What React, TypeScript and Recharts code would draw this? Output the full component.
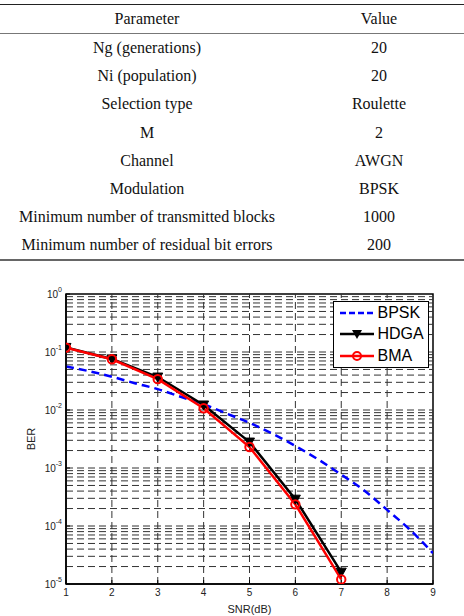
import React from "react";
import {
  LineChart,
  Line,
  XAxis,
  YAxis,
  ReferenceLine,
  ReferenceArea,
} from "recharts";

// table contents
const paramNames = [
  "Ng (generations)",
  "Ni (population)",
  "Selection type",
  "M",
  "Channel",
  "Modulation",
  "Minimum number of transmitted blocks",
  "Minimum number of residual bit errors",
];
const paramValues = ["20", "20", "Roulette", "2", "AWGN", "BPSK", "1000", "200"];

// BER curves
const snrPoints = [1, 2, 3, 4, 5, 6, 7];
const hdgaBer = [0.12, 0.076, 0.037, 0.0122, 0.0028, 0.00029, 0.000016];
const bmaBer = [0.119, 0.075, 0.034, 0.0107, 0.0023, 0.000236, 0.000012];
const bpskSnr = [1, 1.5, 2, 2.5, 3, 3.5, 4, 4.5, 5, 5.5, 6, 6.5, 7, 7.5, 8, 8.5, 9];
const bpskBer = [
  0.0563, 0.0468, 0.0375, 0.029, 0.0229, 0.0169, 0.0125, 0.0087, 0.006, 0.0039,
  0.0024, 0.0014, 0.00077, 0.00041, 0.00019, 0.000086, 0.000034,
];

const xTicks = [1, 2, 3, 4, 5, 6, 7, 8, 9];
const yTicks = [1e-5, 1e-4, 1e-3, 1e-2, 1e-1, 1];
const minorSteps = [1, 2, 3, 4, 5, 6, 7, 8, 9];

// dashed grid at every decade and its minor steps, vertical grid at inner x ticks
const gridY = yTicks
  .slice(0, -1)
  .flatMap((d) => minorSteps.map((m) => d * m))
  .filter((v) => v > 1e-5);
const gridX = xTicks.slice(1, -1);

const toRows = (xs: number[], ys: number[]) => xs.map((x, i) => ({ snr: x, ber: ys[i] }));
const bpskRows = toRows(bpskSnr, bpskBer);
const hdgaRows = toRows(snrPoints, hdgaBer);
const bmaRows = toRows(snrPoints, bmaBer);

const sans = "'Liberation Sans', Arial, sans-serif";
const serif = "'Liberation Serif', 'Times New Roman', serif";
const gridStroke = "#333";
const gridDash = "7 4";

const PowerTick = (props: any) => {
  const { x, y, payload } = props;
  const exp = Math.round(Math.log10(payload.value));
  return (
    <text x={x} y={y + 4} textAnchor="end" fontSize={10} fill="#222" fontFamily={sans}>
      10
      <tspan dy={-6} fontSize={7}>
        {exp}
      </tspan>
    </text>
  );
};

const TriangleDot = (props: any) => {
  const { cx, cy, index } = props;
  if (cx == null || cy == null) return <g key={index} />;
  return (
    <polygon
      key={index}
      points={`${cx - 5},${cy - 4} ${cx + 5},${cy - 4} ${cx},${cy + 5}`}
      fill="#000"
      stroke="#000"
    />
  );
};

const CircleDot = (props: any) => {
  const { cx, cy, index } = props;
  if (cx == null || cy == null) return <g key={index} />;
  return <circle key={index} cx={cx} cy={cy} r={4.2} fill="none" stroke="#f00" strokeWidth={2} />;
};

const legendItems = [
  { name: "BPSK", color: "#0000ff", dash: "6 3", marker: "none" },
  { name: "HDGA", color: "#000", dash: undefined, marker: "tri" },
  { name: "BMA", color: "#f00", dash: undefined, marker: "circle" },
];

const ParamTable = () => (
  <table
    style={{
      position: "absolute",
      left: 0,
      top: 4,
      width: 464,
      borderCollapse: "collapse",
      tableLayout: "fixed",
      fontFamily: serif,
      fontSize: 16,
      color: "#111",
    }}
  >
    <thead>
      <tr style={{ height: 29, borderTop: "1.5px solid #222", borderBottom: "1px solid #777" }}>
        <th style={{ width: 294, fontWeight: "normal", padding: 0 }}>Parameter</th>
        <th style={{ width: 170, fontWeight: "normal", padding: 0 }}>Value</th>
      </tr>
    </thead>
    <tbody>
      {paramNames.map((name, i) => (
        <tr
          key={name}
          style={{
            height: 28.3,
            borderBottom: i === paramNames.length - 1 ? "2px solid #666" : undefined,
          }}
        >
          <td style={{ textAlign: "center", padding: 0 }}>{name}</td>
          <td style={{ textAlign: "center", padding: 0 }}>{paramValues[i]}</td>
        </tr>
      ))}
    </tbody>
  </table>
);

const LegendBox = () => (
  <div
    style={{
      position: "absolute",
      left: 333,
      top: 301,
      width: 96,
      height: 67,
      boxSizing: "border-box",
      border: "1.5px solid #000",
      background: "#fff",
      paddingLeft: 5.5,
      fontFamily: sans,
      fontSize: 16,
    }}
  >
    {legendItems.map((item) => (
      <div key={item.name} style={{ height: 21.5, display: "flex", alignItems: "center" }}>
        <svg width={34} height={12} style={{ marginRight: 4 }}>
          <line
            x1={0}
            y1={6}
            x2={34}
            y2={6}
            stroke={item.color}
            strokeWidth={2.5}
            strokeDasharray={item.dash}
          />
          {item.marker === "tri" && <polygon points="12,2 22,2 17,11" fill="#000" />}
          {item.marker === "circle" && (
            <circle cx={17} cy={6} r={4} fill="none" stroke="#f00" strokeWidth={2} />
          )}
        </svg>
        <span style={{ lineHeight: "16px" }}>{item.name}</span>
      </div>
    ))}
  </div>
);

export default function App() {
  return (
    <div
      style={{
        position: "absolute",
        left: 0,
        top: 0,
        width: 464,
        height: 616,
        background: "#fff",
        overflow: "hidden",
      }}
    >
      <ParamTable />
      <div style={{ position: "absolute", left: 0, top: 270 }}>
        <LineChart width={464} height={346} margin={{ top: 24, right: 31, bottom: 0, left: 0 }}>
          <XAxis
            dataKey="snr"
            type="number"
            domain={[1, 9]}
            ticks={xTicks}
            allowDataOverflow
            height={32}
            tickLine={{ stroke: "#000", strokeWidth: 1 }}
            tickSize={-4}
            tickMargin={9}
            axisLine={{ stroke: "#000", strokeWidth: 1.5 }}
            tick={{ fontSize: 10, fill: "#222", fontFamily: sans }}
            label={{
              value: "SNR(dB)",
              position: "insideBottom",
              offset: 3,
              style: { fontSize: 11, fill: "#222", fontFamily: sans },
            }}
          />
          <YAxis
            dataKey="ber"
            type="number"
            scale="log"
            domain={[1e-5, 1]}
            ticks={yTicks}
            allowDataOverflow
            width={66}
            tickLine={{ stroke: "#000", strokeWidth: 1 }}
            tickSize={-4}
            tickMargin={8}
            axisLine={{ stroke: "#000", strokeWidth: 1.5 }}
            tick={<PowerTick />}
            label={{
              value: "BER",
              angle: -90,
              position: "insideLeft",
              offset: 31,
              style: { fontSize: 11, fill: "#222", fontFamily: sans, textAnchor: "middle" },
            }}
          />
          {gridY.map((v) => (
            <ReferenceLine
              key={`gy-${v}`}
              y={v}
              stroke={gridStroke}
              strokeDasharray={gridDash}
              strokeWidth={1}
            />
          ))}
          {gridX.map((v) => (
            <ReferenceLine
              key={`gx-${v}`}
              x={v}
              stroke={gridStroke}
              strokeDasharray={gridDash}
              strokeWidth={1}
            />
          ))}
          <ReferenceArea
            x1={1}
            x2={9}
            y1={1e-5}
            y2={1}
            fill="none"
            fillOpacity={0}
            stroke="#000"
            strokeWidth={1.5}
          />
          <Line
            data={bpskRows}
            dataKey="ber"
            type="monotone"
            stroke="#0000ff"
            strokeWidth={2.5}
            strokeDasharray="8 5"
            dot={false}
            activeDot={false}
            isAnimationActive={false}
          />
          <Line
            data={hdgaRows}
            dataKey="ber"
            type="linear"
            stroke="#000"
            strokeWidth={2.5}
            dot={TriangleDot}
            activeDot={false}
            isAnimationActive={false}
          />
          <Line
            data={bmaRows}
            dataKey="ber"
            type="linear"
            stroke="#f00"
            strokeWidth={2.5}
            dot={CircleDot}
            activeDot={false}
            isAnimationActive={false}
          />
        </LineChart>
      </div>
      <LegendBox />
    </div>
  );
}
